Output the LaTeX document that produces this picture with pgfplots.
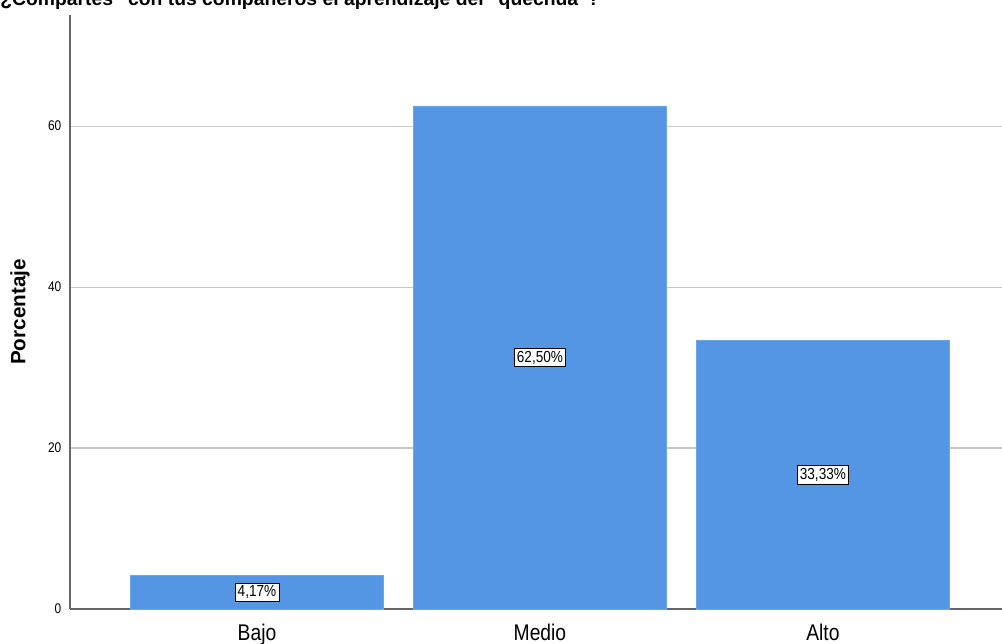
\documentclass[border=0pt]{standalone}
\usepackage{fontspec}
\setmainfont{Liberation Sans}
\newfontfamily\narrowfont[FakeStretch=0.85]{Liberation Sans}
\usepackage{pgfplots}
\pgfplotsset{compat=1.18}
\definecolor{barblue}{RGB}{85,150,228}
\definecolor{gridgray}{RGB}{200,200,200}
\begin{document}
\begin{tikzpicture}
\begin{axis}[
  scale only axis,
  width=699pt, height=445.5pt,
  xmin=-0.661, xmax=2.633,
  ymin=0, ymax=73.8,
  axis x line*=bottom, axis y line*=left,
  axis line style={draw=gray!80!black, line width=0.8pt},
  xtick={0,1,2}, xticklabels={Bajo,Medio,Alto},
  ytick={0,20,40,60},
  major tick length=0pt,
  ymajorgrids, grid style={gridgray, line width=0.8pt},
  xticklabel style={font=\narrowfont\fontsize{17}{18}\selectfont, yshift=-8pt},
  yticklabel style={font=\narrowfont\fontsize{10.5}{12}\selectfont, xshift=-3pt},
  /pgf/number format/assume math mode=true,
  ylabel={Porcentaje},
  ylabel style={font=\bfseries\fontsize{15.5}{17}\selectfont, at={(axis description cs:-0.0536,0.5)}, anchor=center},
  clip=false,
]
\addplot[ybar, bar width=189.75pt, fill=barblue, draw=barblue!85!white, line width=0.4pt] coordinates {(0,4.17) (1,62.50) (2,33.33)};
\addplot[only marks, mark=none, point meta=explicit symbolic,
  nodes near coords,
  every node near coord/.style={anchor=center, fill=white, draw=black, line width=0.7pt, inner sep=2pt, font=\narrowfont\fontsize{12}{13}\selectfont}]
  table[meta=label] {
x y label
0 2.085 4,17\%
1 31.25 62,50\%
2 16.665 33,33\%
};
\end{axis}
\node[anchor=base west, font=\bfseries\fontsize{14.5}{16}\selectfont, inner sep=0pt] at ([shift={(-52.5pt,6.75pt)}]current axis.north west) {¿Compartes "con tus compañeros el aprendizaje del "quechua"?};
\pgfresetboundingbox
\path ([shift={(-52.5pt,-26.25pt)}]current axis.south west) rectangle ([shift={(0pt,11.25pt)}]current axis.north east);
\end{tikzpicture}
\end{document}
